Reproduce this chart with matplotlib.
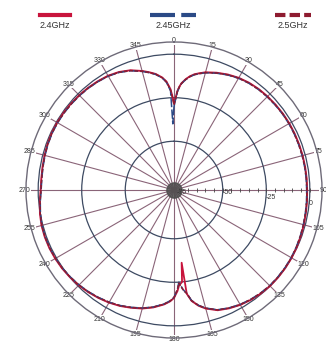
import numpy as np
import matplotlib
matplotlib.use("Agg")
import matplotlib.pyplot as plt
from matplotlib.lines import Line2D

plt.rcParams["font.family"] = ["Liberation Sans", "DejaVu Sans"]

# angles in degrees, clockwise from north
angles = [0, 1, 2, 3, 4, 6, 8, 10, 12, 15,
          20, 25, 30, 35, 40, 45, 50, 55, 60, 65,
          70, 75, 80, 85, 90, 95, 100, 105, 110, 115,
          120, 125, 130, 135, 140, 145, 150, 155, 160, 165,
          168, 171, 173, 174, 175, 177, 178, 180, 182, 185,
          190, 195, 200, 205, 210, 215, 220, 225, 230, 235,
          240, 245, 250, 255, 260, 265, 270, 275, 280, 285,
          290, 295, 300, 305, 310, 315, 320, 325, 330, 335,
          340, 345, 348, 351, 354, 356, 358, 359, 360]

# gain in dB
gain_24 = [-28, -25, -21, -18.5, -16.5, -14, -12, -10.5, -9.5, -8,
           -6.3, -4.8, -3.6, -2.8, -2.3, -2.0, -1.8, -1.6, -1.5, -1.5,
           -1.5, -1.5, -1.5, -1.5, -1.5, -1.3, -1.1, -0.8, -0.5, -0.2,
           0, 0.1, 0.1, 0, -0.4, -1.0, -1.8, -3.0, -4.5, -7.5,
           -10, -13.5, -18, -36, -25, -23, -20, -16, -14, -12,
           -9.5, -7.5, -6, -4.5, -3.3, -2.3, -1.4, -0.6, 0, 0.5,
           0.8, 1.0, 1.0, 0.8, 0.2, -0.6, -1.4, -1.5, -1.3, -1.0,
           -0.7, -0.5, -0.5, -0.6, -0.8, -1.0, -1.3, -1.7, -2.2, -3.2,
           -4.8, -7.2, -8.8, -10.5, -13, -15.5, -20, -24, -28]
gain_245 = [-30, -26, -21.5, -18.8, -16.8, -14.3, -12.3, -10.8, -9.8, -8.3,
            -6.6, -5.1, -3.9, -3.1, -2.6, -2.3, -2.1, -1.9, -1.8, -1.8,
            -1.8, -1.8, -1.8, -1.8, -1.8, -1.6, -1.4, -1.1, -0.8, -0.5,
            -0.3, -0.2, -0.2, -0.3, -0.7, -1.3, -2.1, -3.3, -4.8, -7.8,
            -10.3, -13.8, -18.3, -19.5, -21, -25, -21, -16.3, -14.3, -12.3,
            -9.8, -7.8, -6.3, -4.8, -3.6, -2.6, -1.7, -0.9, -0.3, 0.2,
            0.5, 0.7, 0.7, 0.5, -0.1, -0.9, -1.7, -1.8, -1.6, -1.3,
            -1.0, -0.8, -0.8, -0.9, -1.1, -1.3, -1.6, -2.0, -2.5, -3.5,
            -5.1, -7.5, -9.1, -10.8, -13.3, -16, -21, -40, -30]
gain_25 = [-29, -25.5, -21.2, -18.7, -16.7, -14.2, -12.2, -10.7, -9.7, -8.2,
           -6.5, -5.0, -3.8, -3.0, -2.5, -2.2, -2.0, -1.8, -1.7, -1.7,
           -1.7, -1.7, -1.7, -1.7, -1.7, -1.5, -1.3, -1.0, -0.7, -0.4,
           -0.2, -0.1, -0.1, -0.2, -0.6, -1.2, -2.0, -3.2, -4.7, -7.7,
           -10.2, -13.7, -18.2, -19.3, -20.8, -24.5, -20.8, -16.2, -14.2, -12.2,
           -9.7, -7.7, -6.2, -4.7, -3.5, -2.5, -1.6, -0.8, -0.2, 0.3,
           0.6, 0.8, 0.8, 0.6, 0, -0.8, -1.6, -1.7, -1.5, -1.2,
           -0.9, -0.7, -0.7, -0.8, -1.0, -1.2, -1.5, -1.9, -2.4, -3.4,
           -5.0, -7.4, -9.0, -10.7, -13.2, -15.8, -20.5, -25, -29]

series_names = ["2.4GHz", "2.45GHz", "2.5GHz"]
series_gain = [gain_24, gain_245, gain_25]

theta_ticks = list(range(0, 360, 15))
r_ticks = [-50, -25, 0]
r_min, r_max = -78, 7

styles = [
    dict(color="#c8143c", lw=1.3, ls="-"),
    dict(color="#2b4a86", lw=1.1, ls=(0, (6, 1.5))),
    dict(color="#8e1b30", lw=1.1, ls=(0, (2.5, 1))),
]

fig = plt.figure(figsize=(3.26, 3.42), dpi=100)
ax = fig.add_axes([26 / 326, 4 / 342, 296 / 326, 296 / 342], projection="polar")
ax.set_theta_zero_location("N")
ax.set_theta_direction(-1)
ax.set_rlim(r_min, r_max)

# spokes and rings
ax.set_thetagrids(theta_ticks, [str(t) for t in theta_ticks])
ax.set_rgrids(r_ticks, [str(v) for v in r_ticks], angle=97)
ax.xaxis.grid(True, color="#8a6478", lw=0.8)
ax.yaxis.grid(True, color="#3d4a62", lw=0.9)
ax.spines["polar"].set_color("#6e6a78")
ax.spines["polar"].set_linewidth(1.0)
ax.tick_params(axis="x", labelsize=5, pad=-6, colors="#333333")
ax.tick_params(axis="y", labelsize=5, colors="#333333")
for lab in ax.get_xticklabels():
    lab.set_bbox(dict(facecolor="white", edgecolor="none", pad=0.3))

# minor ticks on the outer ring every 5 deg
ax.set_xticks(np.deg2rad(np.arange(0, 360, 5)), minor=True)
ax.tick_params(axis="x", which="minor", length=2.5, direction="in",
               color="#555555", width=0.6)
ax.tick_params(axis="x", which="major", length=0)

# dB ticks along the 90 deg spoke
r_small = np.arange(-75, 5, 5)
ax.plot(np.full(len(r_small), np.deg2rad(90)), r_small, ls="none",
        marker="|", ms=2.5, mew=0.6, color="#444444")
ax.text(np.deg2rad(110), -73, "-75", fontsize=5, color="#333333",
        ha="center", va="center")

# hub
ax.plot([0], [r_min], marker="o", ms=11, color="#4d4d4d", alpha=0.85)

for name, g, st in zip(series_names, series_gain, styles):
    ax.plot(np.deg2rad(angles), g, label=name, **st)

# legend: sample line above each label
legend_x = [55 / 326, 173 / 326, 293 / 326]
legend_half = [15 / 326, 23 / 326, 18 / 326]
for name, st, lx, hw in zip(series_names, styles, legend_x, legend_half):
    fig.add_artist(Line2D([lx - hw, lx + hw], [1 - 15 / 342] * 2,
                          color=st["color"], lw=3, ls=st["ls"]))
    fig.text(lx, 1 - 26 / 342, name, ha="center", va="center", fontsize=6.5,
             color="#333333")

fig.savefig("out.png", dpi=100)
